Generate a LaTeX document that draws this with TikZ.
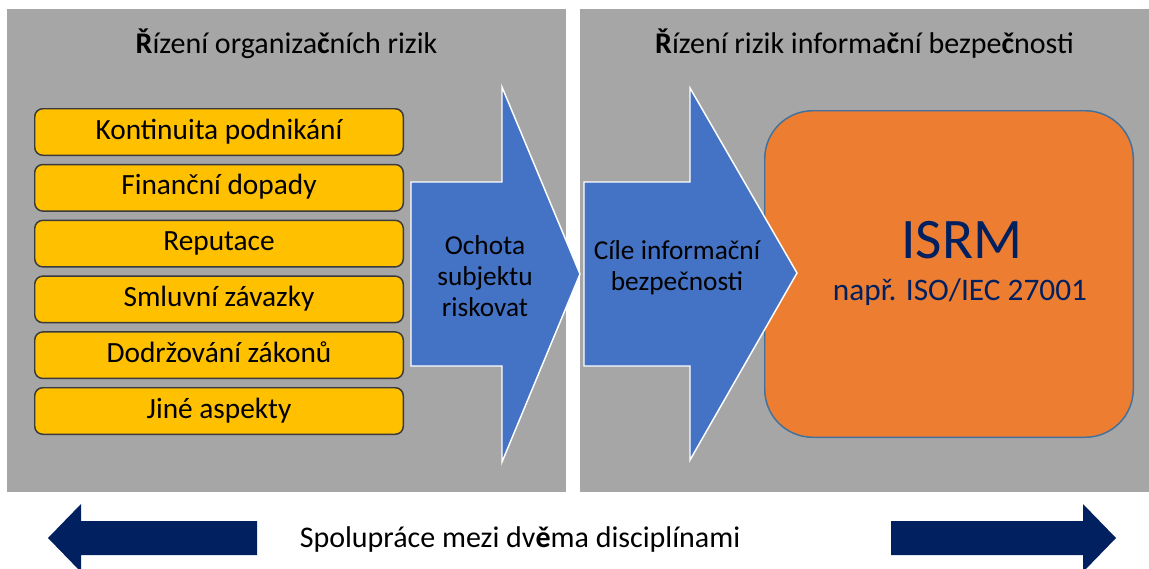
\documentclass[tikz,border=0pt]{standalone}
\usepackage{fontspec}
\setmainfont{Carlito}
\usetikzlibrary{positioning}
\definecolor{panelgray}{HTML}{A6A6A6}
\definecolor{aspectyellow}{HTML}{FFC000}
\definecolor{arrowblue}{HTML}{4472C4}
\definecolor{isrmorange}{HTML}{ED7D31}
\definecolor{navyblue}{HTML}{002060}
\definecolor{edgegray}{HTML}{3A3A3A}
\definecolor{edgeblue}{HTML}{41719C}

\begin{document}
\begin{tikzpicture}[x=0.75pt,y=-0.75pt,node distance=5.85pt,
                          panel/.style={fill=panelgray},
                          title node/.style={anchor=base,font=\fontsize{22.5}{27}\selectfont},
                          aspect node/.style={rectangle,rounded corners=6pt,draw=edgegray,line width=1.1pt,fill=aspectyellow,
                            minimum width=276.4pt,minimum height=34.9pt,text height=14pt,text depth=3.5pt,font=\fontsize{22}{26}\selectfont},
                          isrm node/.style={rectangle,rounded corners=36pt,draw=edgeblue,line width=1.1pt,fill=isrmorange,
                            minimum width=276.4pt,minimum height=244.9pt},
                          block arrow/.style={fill=arrowblue,draw=white,line width=1.1pt},
                          arrow text/.style={anchor=base,align=center,font=\fontsize{20.5}{23.25}\selectfont},
                          navy arrow/.style={fill=navyblue}]

        \useasboundingbox (0,0) rectangle (1149,568);
        \clip (0,0) rectangle (1149,568);

        \fill[panel] (7,9) rectangle (566,492);
        \fill[panel] (580,9) rectangle (1149,492);

        \node[title node] (t1) at (286.5,53) {\textbf{Ř}ízení organiza\textbf{č}ních rizik};
        \node[title node] (t2) at (864.5,53) {\textbf{Ř}ízení rizik informa\textbf{č}ní bezpe\textbf{č}nosti};

        \node[aspect node] (1) at (219,132) {Kontinuita podnikání};
        \node[aspect node] (2) [below=of 1] {Finanční dopady};
        \node[aspect node] (3) [below=of 2] {Reputace};
        \node[aspect node] (4) [below=of 3] {Smluvní závazky};
        \node[aspect node] (5) [below=of 4] {Dodržování zákonů};
        \node[aspect node] (6) [below=of 5] {Jiné aspekty};

        \node[isrm node] (isrm) at (949,274) {};
        \node[anchor=base,text=navyblue,font=\fontsize{43}{50}\selectfont] (isrm title) at (962,258) {ISRM};
        \node[anchor=base,text=navyblue,font=\fontsize{23.5}{28}\selectfont] (isrm norm) at (960,300.5) {např. ISO/IEC 27001};

        \draw[block arrow] (584,182) -- (690,182) -- (690,88) -- (797,273) -- (690,460) -- (690,366) -- (584,366) -- cycle;
        \draw[block arrow] (411,182) -- (502,182) -- (502,87) -- (580,274) -- (502,462) -- (502,366) -- (411,366) -- cycle;

        \node[arrow text] (appetite) at (485,316.7) {Ochota\\subjektu\\riskovat};
        \node[arrow text] (goals) at (677,290) {Cíle informační\\bezpečnosti};

        \fill[navy arrow] (48,538) -- (81,504) -- (81,521) -- (257,521) -- (257,555) -- (81,555) -- (81,572) -- cycle;
        \fill[navy arrow] (891,521) -- (1083,521) -- (1083,504) -- (1116,538) -- (1083,572) -- (1083,555) -- (891,555) -- cycle;

        \node[title node] (coop) at (520,547) {Spolupráce mezi dv\textbf{ě}ma disciplínami};
      \end{tikzpicture}
\end{document}
